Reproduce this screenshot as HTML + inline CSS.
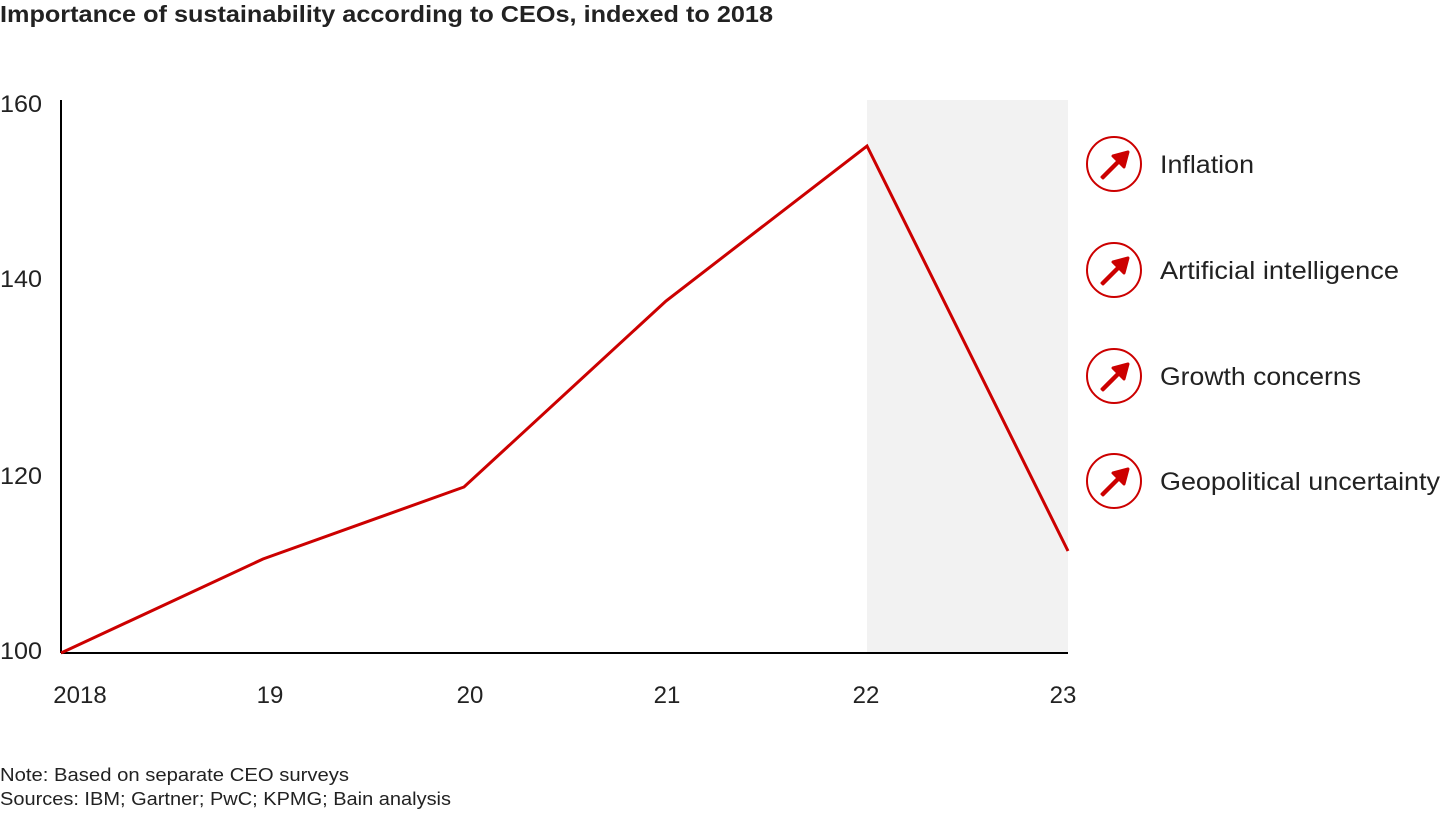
<!DOCTYPE html>
<html><head><style>
body{margin:0;width:1440px;height:810px;background:#fff;overflow:hidden;font-family:"Liberation Sans",sans-serif;color:#222}
</style></head><body>
<svg width="1440" height="810" xmlns="http://www.w3.org/2000/svg" font-family="Liberation Sans, sans-serif">
<text x="0" y="22" font-size="23" font-weight="bold" fill="#222" textLength="773" lengthAdjust="spacingAndGlyphs">Importance of sustainability according to CEOs, indexed to 2018</text>
<rect x="867" y="100" width="201" height="553" fill="#f2f2f2"/>
<line x1="61" y1="100" x2="61" y2="653" stroke="#000" stroke-width="2"/>
<line x1="61" y1="653" x2="1068" y2="653" stroke="#000" stroke-width="2"/>
<g font-size="24" fill="#222">
<text x="0" y="112" textLength="42" lengthAdjust="spacingAndGlyphs">160</text>
<text x="0" y="287" textLength="42" lengthAdjust="spacingAndGlyphs">140</text>
<text x="0" y="484" textLength="42" lengthAdjust="spacingAndGlyphs">120</text>
<text x="0" y="659" textLength="42" lengthAdjust="spacingAndGlyphs">100</text>
</g>
<g font-size="24" fill="#222" text-anchor="middle">
<text x="80" y="703">2018</text>
<text x="270" y="703">19</text>
<text x="470" y="703">20</text>
<text x="667" y="703">21</text>
<text x="866" y="703">22</text>
<text x="1063" y="703">23</text>
</g>
<polyline points="61,653 263,559 464,487 666,301 867,146 1068,551" fill="none" stroke="#cc0000" stroke-width="3"/>
<g fill="none" stroke="#cc0000" stroke-width="2">
<circle cx="1114" cy="164" r="27"/><circle cx="1114" cy="270" r="27"/><circle cx="1114" cy="376" r="27"/><circle cx="1114" cy="481" r="27"/>
</g>
<g fill="#cc0000">
<path d="M1102,177 L1118,161 L1113,156 L1128,152 L1124,167 L1119,162 L1103,178 Z" stroke="#cc0000" stroke-width="3" stroke-linejoin="round"/>
<path d="M1102,283 L1118,267 L1113,262 L1128,258 L1124,273 L1119,268 L1103,284 Z" stroke="#cc0000" stroke-width="3" stroke-linejoin="round"/>
<path d="M1102,389 L1118,373 L1113,368 L1128,364 L1124,379 L1119,374 L1103,390 Z" stroke="#cc0000" stroke-width="3" stroke-linejoin="round"/>
<path d="M1102,494 L1118,478 L1113,473 L1128,469 L1124,484 L1119,479 L1103,495 Z" stroke="#cc0000" stroke-width="3" stroke-linejoin="round"/>
</g>
<g font-size="25" fill="#222">
<text x="1160" y="173" textLength="94" lengthAdjust="spacingAndGlyphs">Inflation</text>
<text x="1160" y="279" textLength="239" lengthAdjust="spacingAndGlyphs">Artificial intelligence</text>
<text x="1160" y="385" textLength="201" lengthAdjust="spacingAndGlyphs">Growth concerns</text>
<text x="1160" y="490" textLength="280" lengthAdjust="spacingAndGlyphs">Geopolitical uncertainty</text>
</g>
<g font-size="18" fill="#222">
<text x="0" y="781" textLength="349" lengthAdjust="spacingAndGlyphs">Note: Based on separate CEO surveys</text>
<text x="0" y="805" textLength="451" lengthAdjust="spacingAndGlyphs">Sources: IBM; Gartner; PwC; KPMG; Bain analysis</text>
</g>
</svg>
</body></html>
